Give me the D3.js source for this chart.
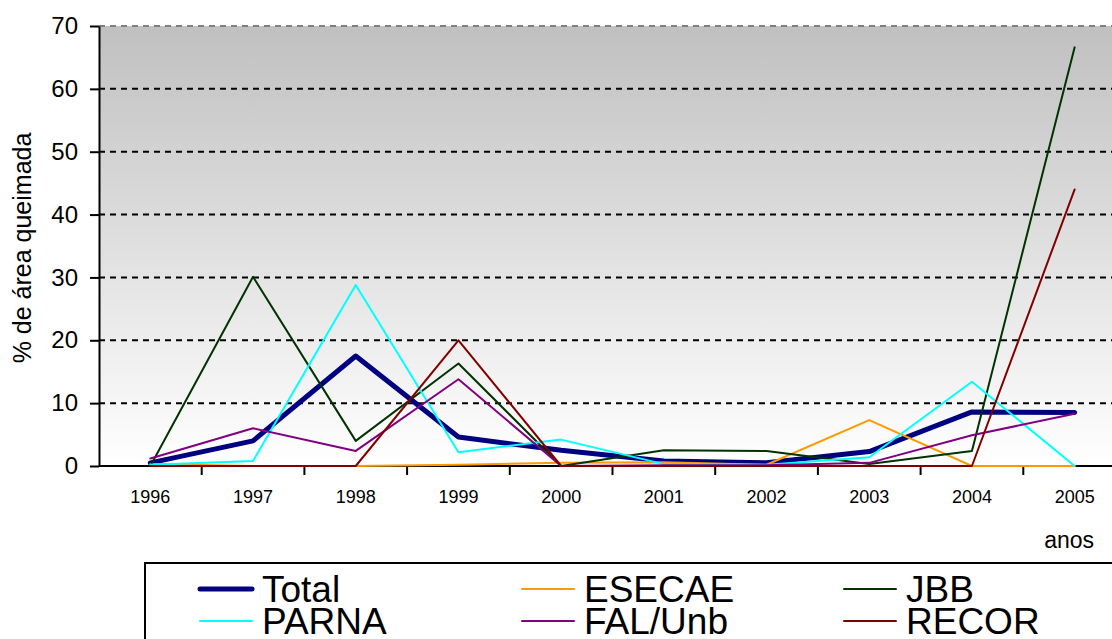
<!DOCTYPE html>
<html>
<head>
<meta charset="utf-8">
<script src="https://cdn.jsdelivr.net/npm/d3@7"></script>
<style>
  body { margin: 0; background: #fff; }
  svg { display: block; }
  svg text { font-family: "Liberation Sans", Arial, sans-serif; fill: #000; }
</style>
</head>
<body>
<div id="chart"></div>
<script>
// dados
const years = ["1996", "1997", "1998", "1999", "2000", "2001", "2002", "2003", "2004", "2005"];
const total  = [0.5, 4.0, 17.5, 4.6, 2.5, 0.8, 0.5, 2.3, 8.6, 8.5];
const esecae = [0.3, 0, 0, 0.2, 0.5, 0.6, 0.2, 7.3, 0, 0];
const jbb    = [0, 30.1, 4.0, 16.3, 0, 2.5, 2.4, 0.3, 2.4, 66.6];
const parna  = [0.2, 0.8, 28.8, 2.2, 4.2, 0.3, 0.2, 1.4, 13.4, 0];
const falunb = [1.2, 6.0, 2.4, 13.8, 0, 0.1, 0.1, 0.5, 4.9, 8.3];
const recor  = [0, 0, 0, 20.0, 0, 0, 0, 0, 0, 44.0];
const yTicks = [0, 10, 20, 30, 40, 50, 60, 70];

const series = [
  { name: "Total",   values: total,  color: "#000080", w: 5 },
  { name: "ESECAE",  values: esecae, color: "#ff9900", w: 2 },
  { name: "JBB",     values: jbb,    color: "#003300", w: 2 },
  { name: "PARNA",   values: parna,  color: "#00ffff", w: 2 },
  { name: "FAL/Unb", values: falunb, color: "#800080", w: 2 },
  { name: "RECOR",   values: recor,  color: "#800000", w: 2 }
];

const width = 1112, height = 639;
const mLeft = 99, mTop = 26, mBottom = 466, plotRight = 1126;

const svg = d3.select("#chart").append("svg")
  .attr("width", width).attr("height", height);

// escalas
const xBand = d3.scaleBand().domain(years).range([mLeft, plotRight]);
const x = d => xBand(d) + xBand.bandwidth() / 2;
const y = d3.scaleLinear().domain([0, 70]).range([mBottom, mTop]);

// fundo com gradiente
const grad = svg.append("defs").append("linearGradient")
  .attr("id", "bg").attr("x1", 0).attr("y1", 0).attr("x2", 0).attr("y2", 1);
grad.append("stop").attr("offset", "0%").attr("stop-color", "#c0c0c0");
grad.append("stop").attr("offset", "100%").attr("stop-color", "#ffffff");

svg.append("rect")
  .attr("x", mLeft).attr("y", y(70))
  .attr("width", plotRight - mLeft).attr("height", y(0) - y(70))
  .attr("fill", "url(#bg)");

// grade
svg.append("g").selectAll("line")
  .data(yTicks.filter(d => d > 0))
  .join("line")
  .attr("x1", mLeft).attr("x2", width)
  .attr("y1", d => y(d)).attr("y2", d => y(d))
  .attr("stroke", d => d === 70 ? "#808080" : "#000")
  .attr("stroke-width", 2)
  .attr("stroke-dasharray", "6,5");

// eixo y
const yAxis = svg.append("g")
  .attr("transform", `translate(${mLeft},0)`)
  .call(d3.axisLeft(y).tickValues(yTicks).tickSize(9).tickSizeOuter(0).tickPadding(12));
yAxis.select(".domain").attr("stroke", "#000").attr("stroke-width", 2);
yAxis.selectAll(".tick line").attr("stroke", "#000").attr("stroke-width", 2);
yAxis.selectAll("text").attr("font-size", 24);

// eixo x
const xAxis = svg.append("g").attr("transform", `translate(0,${mBottom})`);
xAxis.append("line").attr("x1", mLeft).attr("x2", width)
  .attr("stroke", "#000").attr("stroke-width", 2);
xAxis.selectAll(".tk").data(years.slice(1))
  .join("line").attr("class", "tk")
  .attr("x1", d => xBand(d)).attr("x2", d => xBand(d))
  .attr("y1", 0).attr("y2", 9)
  .attr("stroke", "#000").attr("stroke-width", 2);
xAxis.selectAll("text").data(years)
  .join("text")
  .attr("x", d => x(d)).attr("y", 37)
  .attr("text-anchor", "middle")
  .attr("font-size", 18)
  .text(d => d);

// linhas
const line = d3.line()
  .x((d, i) => x(years[i]))
  .y(d => y(d));

svg.append("g").selectAll("path")
  .data(series)
  .join("path")
  .attr("d", d => line(d.values))
  .attr("fill", "none")
  .attr("stroke", d => d.color)
  .attr("stroke-width", d => d.w)
  .attr("stroke-linejoin", "round")
  .attr("stroke-linecap", "round");

// títulos
svg.append("text")
  .attr("transform", `translate(31,248) rotate(-90)`)
  .attr("text-anchor", "middle")
  .attr("font-size", 25)
  .text("% de área queimada");

svg.append("text")
  .attr("x", 1094).attr("y", 548)
  .attr("text-anchor", "end")
  .attr("font-size", 23)
  .text("anos");

// legenda
svg.append("rect")
  .attr("x", 145).attr("y", 563)
  .attr("width", 1000).attr("height", 100)
  .attr("fill", "#fff").attr("stroke", "#000").attr("stroke-width", 2);

const colX = [200, 522, 844];
const rowY = [589, 621];
const leg = svg.append("g").selectAll("g")
  .data(series)
  .join("g")
  .attr("transform", (d, i) => `translate(${colX[i % 3]},${rowY[Math.floor(i / 3)]})`);
leg.append("line")
  .attr("x1", 0).attr("x2", 52)
  .attr("stroke", d => d.color)
  .attr("stroke-width", d => d.w)
  .attr("stroke-linecap", "round");
leg.append("text")
  .attr("x", 62).attr("y", 13)
  .attr("font-size", 37)
  .text(d => d.name);
</script>
</body>
</html>
